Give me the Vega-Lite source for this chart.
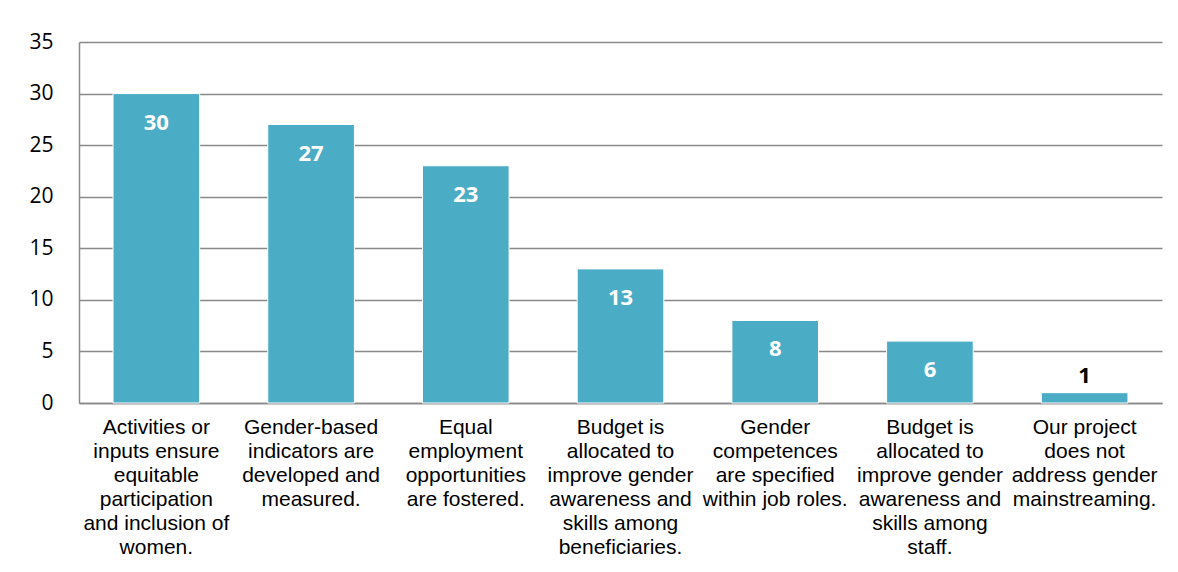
{
  "$schema": "https://vega.github.io/schema/vega-lite/v6.json",
  "width": 1083,
  "height": 361,
  "autosize": {"type": "none"},
  "padding": {"left": 79, "top": 42, "right": 16, "bottom": 169},
  "background": "white",
  "config": {"view": {"stroke": null}},
  "data": {
    "values": [
      {"category": "Activities or\ninputs ensure\nequitable\nparticipation\nand inclusion of\nwomen.", "value": 30},
      {"category": "Gender-based\nindicators are\ndeveloped and\nmeasured.", "value": 27},
      {"category": "Equal\nemployment\nopportunities\nare fostered.", "value": 23},
      {"category": "Budget is\nallocated to\nimprove gender\nawareness and\nskills among\nbeneficiaries.", "value": 13},
      {"category": "Gender\ncompetences\nare specified\nwithin job roles.", "value": 8},
      {"category": "Budget is\nallocated to\nimprove gender\nawareness and\nskills among\nstaff.", "value": 6},
      {"category": "Our project\ndoes not\naddress gender\nmainstreaming.", "value": 1}
    ]
  },
  "encoding": {
    "x": {
      "field": "category",
      "type": "nominal",
      "sort": [
        "Activities or\ninputs ensure\nequitable\nparticipation\nand inclusion of\nwomen.",
        "Gender-based\nindicators are\ndeveloped and\nmeasured.",
        "Equal\nemployment\nopportunities\nare fostered.",
        "Budget is\nallocated to\nimprove gender\nawareness and\nskills among\nbeneficiaries.",
        "Gender\ncompetences\nare specified\nwithin job roles.",
        "Budget is\nallocated to\nimprove gender\nawareness and\nskills among\nstaff.",
        "Our project\ndoes not\naddress gender\nmainstreaming."
      ],
      "scale": {"paddingInner": 0.44, "paddingOuter": 0.22},
      "axis": {
        "title": null,
        "labelAngle": 0,
        "labelExpr": "split(datum.label, '\\n')",
        "labelFont": "Liberation Sans",
        "labelFontSize": 21,
        "labelLineHeight": 24,
        "labelColor": "#000000",
        "labelPadding": 13,
        "labelBaseline": "top",
        "labelLimit": 0,
        "ticks": false,
        "domainColor": "#898989",
        "domainWidth": 1.5
      }
    },
    "y": {
      "field": "value",
      "type": "quantitative",
      "scale": {"domain": [0, 35]},
      "axis": {
        "title": null,
        "values": [0, 5, 10, 15, 20, 25, 30, 35],
        "labelFont": "Open Sans",
        "labelFontSize": 21,
        "labelColor": "#000000",
        "labelPadding": 26,
        "ticks": false,
        "domainColor": "#898989",
        "domainWidth": 1.5,
        "gridColor": "#898989",
        "gridWidth": 1.5
      }
    }
  },
  "layer": [
    {
      "mark": {"type": "bar", "color": "#4BACC6", "stroke": "#ffffff", "strokeWidth": 1}
    },
    {
      "transform": [{"filter": "datum.value >= 5"}],
      "mark": {"type": "text", "color": "#ffffff", "font": "Open Sans", "fontWeight": "bold", "fontSize": 22, "baseline": "middle", "dy": 29},
      "encoding": {"text": {"field": "value", "type": "quantitative"}}
    },
    {
      "transform": [{"filter": "datum.value < 5"}],
      "mark": {"type": "text", "color": "#000000", "font": "Open Sans", "fontWeight": "bold", "fontSize": 22, "baseline": "middle", "dy": -17},
      "encoding": {"text": {"field": "value", "type": "quantitative"}}
    }
  ]
}
